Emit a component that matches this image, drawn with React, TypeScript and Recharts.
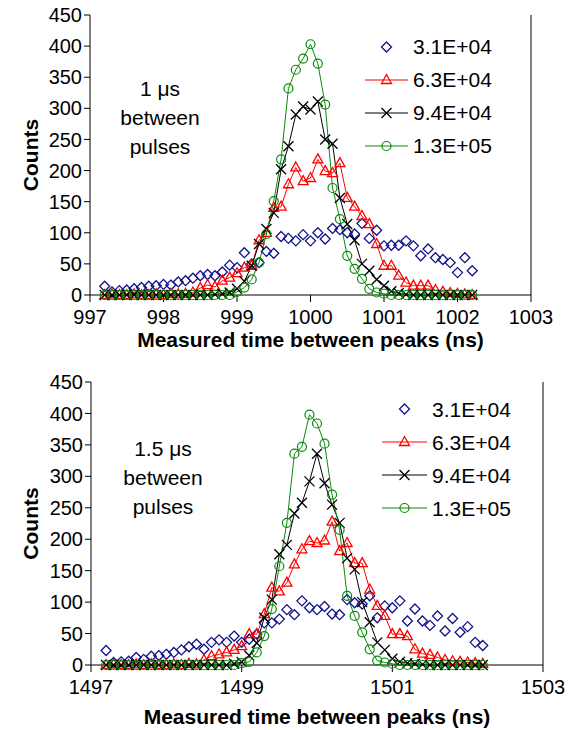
import { LineChart, Line, XAxis, YAxis } from 'recharts'

// x positions of the bins (ns)
const TOP_TIME = [
  997.2, 997.3, 997.4, 997.5, 997.6, 997.7, 997.8, 997.9, 998.0, 998.1,
  998.2, 998.3, 998.4, 998.5, 998.6, 998.7, 998.8, 998.9, 999.0, 999.1,
  999.2, 999.3, 999.4, 999.5, 999.6, 999.7, 999.8, 999.9, 1000.0, 1000.1,
  1000.2, 1000.3, 1000.4, 1000.5, 1000.6, 1000.7, 1000.8, 1000.9, 1001.0, 1001.1,
  1001.2, 1001.3, 1001.4, 1001.5, 1001.6, 1001.7, 1001.8, 1001.9, 1002.0, 1002.1,
  1002.2,
]
const BOTTOM_TIME = [
  1497.2, 1497.3, 1497.4, 1497.5, 1497.6, 1497.7, 1497.8, 1497.9, 1498.0, 1498.1,
  1498.2, 1498.3, 1498.4, 1498.5, 1498.6, 1498.7, 1498.8, 1498.9, 1499.0, 1499.1,
  1499.2, 1499.3, 1499.4, 1499.5, 1499.6, 1499.7, 1499.8, 1499.9, 1500.0, 1500.1,
  1500.2, 1500.3, 1500.4, 1500.5, 1500.6, 1500.7, 1500.8, 1500.9, 1501.0, 1501.1,
  1501.2, 1501.3, 1501.4, 1501.5, 1501.6, 1501.7, 1501.8, 1501.9, 1502.0, 1502.1,
  1502.2,
]

// 1 us between pulses
const TOP_31 = [
  14, 5, 7, 8, 10, 12, 14, 15, 17, 16, 21, 23, 27, 31, 33, 31, 37, 48, 44, 68,
  50, 52, 70, 67, 94, 91, 87, 97, 87, 100, 90, 107, 105, 100, 98, 115, 91, 104, 79, 80,
  80, 87, 79, 63, 74, 60, 57, 52, 36, 60, 39,
]
const TOP_63 = [
  0, 1, 0, 0, 1, 0, 0, 1, 0, 2, 1, 2, 4, 11, 16, 13, 23, 28, 35, 44,
  47, 88, 100, 140, 142, 178, 205, 183, 188, 218, 199, 196, 212, 156, 142, 127, 114, 82, 47, 47,
  31, 20, 15, 15, 15, 8, 5, 3, 2, 1, 0,
]
const TOP_94 = [
  0, 0, 0, 0, 0, 0, 0, 0, 0, 0, 0, 0, 0, 0, 0, 1, 2, 4, 10, 22,
  47, 82, 106, 132, 202, 239, 290, 303, 298, 311, 250, 243, 156, 114, 88, 50, 39, 25, 15, 6,
  3, 1, 0, 0, 0, 0, 0, 0, 0, 0, 0,
]
const TOP_130 = [
  0, 0, 0, 0, 0, 0, 0, 0, 0, 0, 0, 0, 0, 0, 0, 0, 0, 0, 5, 12,
  25, 52, 98, 151, 218, 332, 362, 380, 403, 372, 306, 172, 122, 63, 42, 26, 10, 4, 2, 0,
  0, 0, 0, 0, 0, 0, 0, 0, 0, 0, 0,
]

// 1.5 us between pulses
const BOT_31 = [
  23, 4, 5, 6, 12, 9, 14, 15, 17, 20, 24, 29, 33, 25, 36, 40, 36, 46, 36, 41,
  49, 67, 67, 73, 88, 80, 102, 91, 88, 93, 81, 80, 104, 99, 97, 110, 75, 94, 91, 102,
  70, 89, 70, 63, 78, 54, 74, 52, 61, 36, 31,
]
const BOT_63 = [
  0, 1, 0, 0, 1, 0, 1, 0, 0, 1, 0, 2, 1, 8, 14, 17, 20, 24, 30, 49,
  49, 81, 123, 117, 131, 160, 184, 197, 194, 198, 228, 181, 194, 162, 162, 120, 94, 78, 49, 49,
  46, 25, 18, 16, 12, 8, 6, 5, 4, 3, 2,
]
const BOT_94 = [
  0, 0, 0, 0, 0, 0, 0, 0, 0, 0, 0, 0, 0, 0, 0, 0, 0, 2, 5, 15,
  35, 75, 104, 176, 191, 241, 258, 292, 336, 289, 255, 226, 170, 152, 100, 68, 36, 24, 10, 5,
  3, 2, 1, 0, 0, 0, 0, 0, 0, 0, 0,
]
const BOT_130 = [
  0, 0, 0, 0, 0, 0, 0, 0, 0, 0, 0, 0, 0, 0, 0, 0, 0, 0, 3, 5,
  20, 46, 89, 157, 226, 336, 347, 398, 384, 352, 271, 215, 110, 78, 52, 25, 7, 4, 2, 0,
  0, 0, 0, 0, 0, 0, 0, 0, 0, 0, 0,
]

const SERIES_NAMES = ['3.1E+04', '6.3E+04', '9.4E+04', '1.3E+05']
const Y_TICKS = [0, 50, 100, 150, 200, 250, 300, 350, 400, 450]
const TOP_X_TICKS = [997, 998, 999, 1000, 1001, 1002, 1003]
const BOTTOM_X_TICKS = [1497, 1499, 1501, 1503]

const NAVY = '#12128c'
const RED = '#ff0000'
const BLACK = '#000000'
const GREEN = '#0a8a0a'
const FONT = '"Liberation Sans", Arial, Helvetica, sans-serif'

type Shape = 'diamond' | 'triangle' | 'cross' | 'circle'

function Marker({ shape, cx, cy, color }: { shape: Shape; cx: number; cy: number; color: string }) {
  if (shape === 'diamond') {
    return (
      <path
        d={`M${cx},${cy - 5} L${cx + 5},${cy} L${cx},${cy + 5} L${cx - 5},${cy} Z`}
        fill="none"
        stroke={color}
        strokeWidth={1.3}
      />
    )
  }
  if (shape === 'triangle') {
    return (
      <path
        d={`M${cx},${cy - 5.5} L${cx + 5},${cy + 3.5} L${cx - 5},${cy + 3.5} Z`}
        fill="none"
        stroke={color}
        strokeWidth={1.3}
      />
    )
  }
  if (shape === 'cross') {
    return (
      <path
        d={`M${cx - 5},${cy - 5} L${cx + 5},${cy + 5} M${cx - 5},${cy + 5} L${cx + 5},${cy - 5}`}
        fill="none"
        stroke={color}
        strokeWidth={1.3}
      />
    )
  }
  return <circle cx={cx} cy={cy} r={4.5} fill="none" stroke={color} strokeWidth={1.2} />
}

const SERIES = [
  { key: 'a', shape: 'diamond' as Shape, color: NAVY, line: false },
  { key: 'b', shape: 'triangle' as Shape, color: RED, line: true },
  { key: 'c', shape: 'cross' as Shape, color: BLACK, line: true },
  { key: 'd', shape: 'circle' as Shape, color: GREEN, line: true },
]

function makeDot(shape: Shape, color: string) {
  return (p: any) => {
    if (p.cx == null || p.cy == null) return <g key={p.index} />
    return (
      <g key={`${shape}-${p.index}`}>
        <Marker shape={shape} cx={p.cx} cy={p.cy} color={color} />
      </g>
    )
  }
}

function LegendBox({ left, top, rowHeight, sample }: { left: number; top: number; rowHeight: number; sample: number }) {
  return (
    <div style={{ position: 'absolute', left, top, fontFamily: FONT, fontSize: 21, color: '#000' }}>
      {SERIES.map((s, i) => (
        <div key={s.key} style={{ display: 'flex', alignItems: 'center', height: rowHeight }}>
          <svg width={sample} height={20} style={{ display: 'block' }}>
            {s.line && <line x1={0} y1={10} x2={sample} y2={10} stroke={s.color} strokeWidth={1} />}
            <Marker shape={s.shape} cx={sample / 2} cy={10} color={s.color} />
          </svg>
          <span style={{ marginLeft: 5, lineHeight: 1 }}>{SERIES_NAMES[i]}</span>
        </div>
      ))}
    </div>
  )
}

interface PanelProps {
  times: number[]
  values: number[][]
  xTicks: number[]
  note: string
  plotTop: number
  plotLeft: number
  plotRight: number
  plotBottom: number
  xLabelOffset: number
  legend: { left: number; top: number; rowHeight: number; sample: number }
  noteBox: { left: number; top: number }
}

const W = 574
const H = 365

function Panel({ times, values, xTicks, note, plotTop, plotLeft, plotRight, plotBottom, xLabelOffset, legend, noteBox }: PanelProps) {
  const data = times.map((t, i) => ({
    t,
    a: values[0][i],
    b: values[1][i],
    c: values[2][i],
    d: values[3][i],
  }))
  const domain: [number, number] = [xTicks[0], xTicks[xTicks.length - 1]]
  const tickStyle = { fill: '#000', fontSize: 20, fontFamily: FONT }

  return (
    <div style={{ position: 'relative', width: W, height: H }}>
      <LineChart
        width={W}
        height={H}
        data={data}
        margin={{ top: plotTop, right: W - plotRight - 10, bottom: 0, left: 0 }}
      >
        <XAxis
          dataKey="t"
          type="number"
          domain={domain}
          ticks={xTicks}
          interval={0}
          height={H - plotBottom}
          tick={tickStyle}
          tickSize={7}
          tickMargin={8}
          axisLine={{ stroke: '#000' }}
          tickLine={{ stroke: '#000' }}
          label={{
            value: 'Measured time between peaks (ns)',
            position: 'insideBottom',
            offset: xLabelOffset,
            style: { fill: '#000', fontSize: 21, fontWeight: 'bold', fontFamily: FONT },
          }}
        />
        <XAxis
          xAxisId="top"
          orientation="top"
          type="number"
          domain={domain}
          height={0}
          tick={false}
          tickLine={false}
          axisLine={{ stroke: '#000' }}
        />
        <YAxis
          domain={[0, 450]}
          ticks={Y_TICKS}
          interval={0}
          width={plotLeft}
          tick={tickStyle}
          tickSize={6}
          tickMargin={2}
          axisLine={{ stroke: '#000' }}
          tickLine={{ stroke: '#000' }}
          label={{
            value: 'Counts',
            angle: -90,
            position: 'insideLeft',
            offset: 31,
            style: { fill: '#000', fontSize: 21, fontWeight: 'bold', fontFamily: FONT, textAnchor: 'middle' },
          }}
        />
        <YAxis
          yAxisId="right"
          orientation="right"
          domain={[0, 450]}
          ticks={Y_TICKS}
          interval={0}
          width={10}
          tick={false}
          tickSize={6}
          axisLine={{ stroke: '#000' }}
          tickLine={{ stroke: '#000' }}
        />
        {SERIES.map((s) => (
          <Line
            key={s.key}
            dataKey={s.key}
            type="linear"
            stroke={s.line ? s.color : 'none'}
            strokeWidth={1}
            dot={makeDot(s.shape, s.color)}
            activeDot={false}
            isAnimationActive={false}
          />
        ))}
      </LineChart>

      <LegendBox {...legend} />

      <div
        style={{
          position: 'absolute',
          left: noteBox.left,
          top: noteBox.top,
          width: 120,
          textAlign: 'center',
          fontFamily: FONT,
          fontSize: 21,
          lineHeight: '29px',
          color: '#000',
        }}
      >
        <div>{note}</div>
        <div>between</div>
        <div>pulses</div>
      </div>
    </div>
  )
}

export default function App() {
  return (
    <div style={{ position: 'absolute', left: 0, top: 0, width: W, height: 730, background: '#fff' }}>
      <Panel
        times={TOP_TIME}
        values={[TOP_31, TOP_63, TOP_94, TOP_130]}
        xTicks={TOP_X_TICKS}
        note="1 μs"
        plotTop={15}
        plotLeft={90}
        plotRight={531}
        plotBottom={295}
        xLabelOffset={18}
        legend={{ left: 365, top: 30, rowHeight: 33, sample: 43 }}
        noteBox={{ left: 100, top: 73.5 }}
      />
      <Panel
        times={BOTTOM_TIME}
        values={[BOT_31, BOT_63, BOT_94, BOT_130]}
        xTicks={BOTTOM_X_TICKS}
        note="1.5 μs"
        plotTop={17}
        plotLeft={91}
        plotRight={543}
        plotBottom={300}
        xLabelOffset={6}
        legend={{ left: 382, top: 27.5, rowHeight: 33, sample: 45 }}
        noteBox={{ left: 103, top: 68.5 }}
      />
    </div>
  )
}
